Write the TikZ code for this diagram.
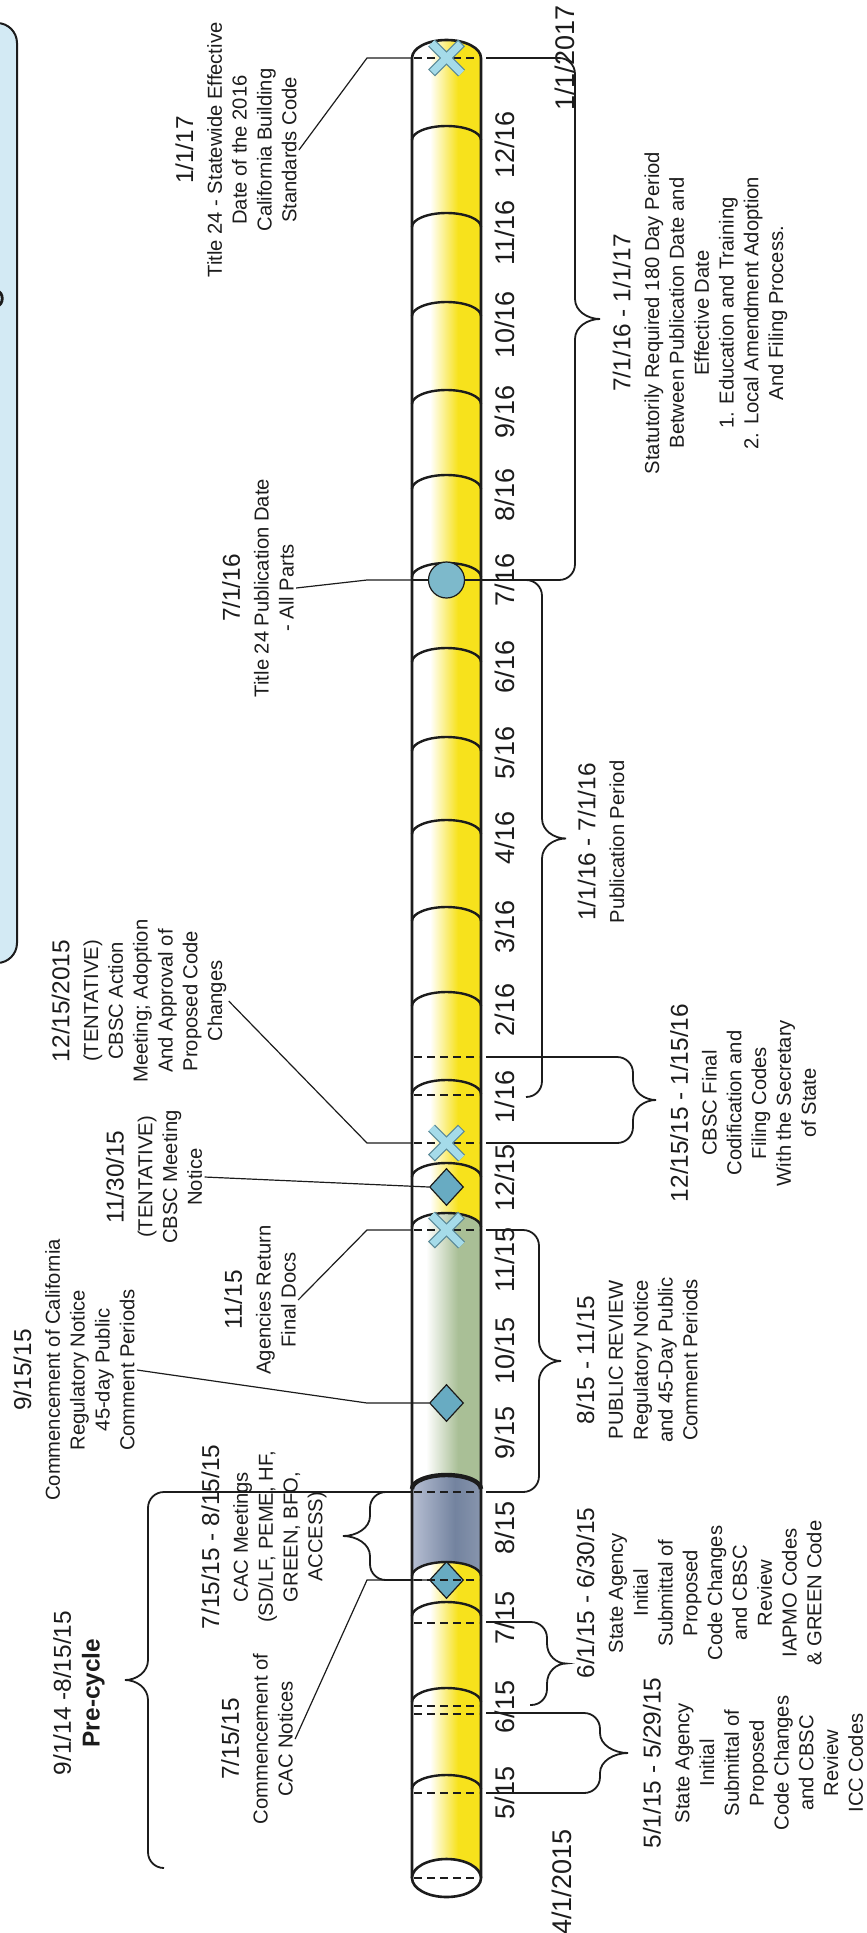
\documentclass[tikz,border=0pt]{standalone}
\usepackage{fontspec}
\setmainfont{Liberation Sans}
\usetikzlibrary{shapes.geometric}

\definecolor{tubeyellow}{HTML}{F7E21C}
\definecolor{reviewgreen}{HTML}{A9BF96}
\definecolor{cacblue}{HTML}{73839F}
\definecolor{cacbluelight}{HTML}{C9CFE1}
\definecolor{markerblue}{HTML}{68ABC2}
\definecolor{pubdot}{HTML}{7DB9CB}
\definecolor{crossblue}{HTML}{A5DBE9}
\definecolor{crossedge}{HTML}{5B8A98}
\definecolor{boxblue}{HTML}{D3EAF4}
\definecolor{ink}{HTML}{1C1C1C}

\newcommand{\headfont}{\fontsize{12.2}{14}\selectfont}
\newcommand{\bodyfont}{\fontsize{10.1}{12.4}\selectfont}

% #1 top y, #2 bottom y, #3 top stub x, #4 bottom stub x, #5 spine x, #6 tip x
\newcommand{\periodbrace}[6]{%
  \pgfmathsetmacro{\bdir}{(#6>#5) ? 1 : -1}%
  \pgfmathsetmacro{\bmid}{(#1+#2)/2}%
  \draw[period brace]
    (#3,#1) -- ({#5-16*\bdir},#1)
    .. controls ({#5-7*\bdir},#1) and (#5,{#1+7}) .. (#5,{#1+16})
    -- (#5,{\bmid-20})
    .. controls (#5,{\bmid-8}) and ({#5+0.5*(#6-#5)},\bmid) .. (#6,\bmid)
    .. controls ({#5+0.5*(#6-#5)},\bmid) and (#5,{\bmid+8}) .. (#5,{\bmid+20})
    -- (#5,{#2-16})
    .. controls (#5,{#2-7}) and ({#5-7*\bdir},#2) .. ({#5-16*\bdir},#2)
    -- (#4,#2);}

\tikzset{
  note/.style={rotate=90, align=center, font=\bodyfont, text=ink, inner sep=1pt},
  month/.style={rotate=90, font=\fontsize{13.5}{15}\selectfont, text=ink, inner sep=0pt},
  leader/.style={draw=ink, line width=0.6pt},
  period brace/.style={draw=ink, line width=0.9pt},
  tube edge/.style={draw=ink, line width=1.3pt},
  month cap/.style={draw=ink, line width=1.2pt},
  tick/.style={draw=ink, line width=1.3pt, dash pattern=on 4pt off 2.5pt},
  diamond mark/.style={diamond, draw=ink, line width=0.6pt, fill=markerblue,
    minimum width=17pt, minimum height=18.5pt, inner sep=0pt},
  dot mark/.style={circle, draw=ink, line width=0.6pt, fill=pubdot,
    minimum size=18pt, inner sep=0pt},
  cross mark/.pic={
    \draw[crossedge, line width=4.8pt] (-15,-15) -- (15,15) (-15,15) -- (15,-15);
    \draw[crossblue, line width=3.6pt, shorten <=0.6pt, shorten >=0.6pt]
      (-15,-15) -- (15,15) (-15,15) -- (15,-15);
  },
}

\begin{document}
\begin{tikzpicture}[x=0.5pt, y=-0.5pt]
  \useasboundingbox (0,0) rectangle (867,1933);
  % ---------- side panel ----------
  \draw[ink, line width=1pt, fill=boxblue, rounded corners=10pt] (-40,23) rectangle (17,963);
  \draw[ink, line width=1.4pt] (-3,291) .. controls (4,292) and (4,305) .. (-3,306);
  % ---------- tube ----------
  \begin{scope}
    \clip (412,1878) -- (412,58) .. controls (412,48.1) and (427.4,40) .. (446.5,40)
      .. controls (465.6,40) and (481,48.1) .. (481,58) -- (481,1878) -- cycle;
    \fill[white] (405,30) rectangle (490,1900);
    \shade[left color=white, right color=tubeyellow] (430,30) rectangle (458,1900);
    \fill[tubeyellow] (458,30) rectangle (490,1900);
  \end{scope}
  % ---------- public review ----------
  \begin{scope}
    \clip (412,1227) .. controls (412,1219.3) and (427.4,1213) .. (446.5,1213)
      .. controls (465.6,1213) and (481,1219.3) .. (481,1227) -- (481,1489)
      .. controls (481,1481.3) and (465.6,1475) .. (446.5,1475)
      .. controls (427.4,1475) and (412,1481.3) .. (412,1489) -- cycle;
    \fill[white] (405,1200) rectangle (490,1500);
    \shade[left color=white, right color=reviewgreen] (426,1200) rectangle (458,1500);
    \fill[reviewgreen] (458,1200) rectangle (490,1500);
  \end{scope}
  % ---------- CAC meetings ----------
  \begin{scope}
    \clip (412,1489) .. controls (412,1481.3) and (427.4,1475) .. (446.5,1475)
      .. controls (465.6,1475) and (481,1481.3) .. (481,1489) -- (481,1576)
      .. controls (481,1568.3) and (465.6,1562) .. (446.5,1562)
      .. controls (427.4,1562) and (412,1568.3) .. (412,1576) -- cycle;
    \shade[left color=cacbluelight, right color=cacblue] (400,1460) rectangle (455,1590);
    \shade[left color=cacblue, right color=cacblue!80!white] (455,1460) rectangle (490,1590);
  \end{scope}
  % ---------- month caps ----------
  \foreach \t in {126,213,302,390,475,563,648,737,820,907,992,1080,1163,1213,1562,1602,1688,1775}
    \draw[month cap] (412,{\t+14}) .. controls (412,{\t+6.3}) and (427.4,\t) .. (446.5,\t)
      .. controls (465.6,\t) and (481,{\t+6.3}) .. (481,{\t+14});
  \draw[month cap, line width=2.2pt] (412,1489) .. controls (412,1481.3) and (427.4,1475) .. (446.5,1475)
      .. controls (465.6,1475) and (481,1481.3) .. (481,1489);
  \draw[tube edge] (412,1878) -- (412,58) .. controls (412,48.1) and (427.4,40) .. (446.5,40)
      .. controls (465.6,40) and (481,48.1) .. (481,58) -- (481,1878);
  \draw[tube edge, fill=white] (446.5,1878) ellipse [x radius=34.5, y radius=19];
  % ---------- date ticks ----------
  \foreach \y in {58,1057,1095,1143,1230,1492,1623,1706,1714,1793,1878}
    \draw[tick] (414,\y) -- (479,\y);
  \draw[ink, line width=0.9pt] (412,580) -- (481,580);
  % ---------- markers ----------
  \coordinate (m-effective) at (446.5,58);
  \coordinate (m-cbscaction) at (446.5,1143);
  \coordinate (m-finaldocs) at (446.5,1230);
  \pic at (m-effective) {cross mark};
  \pic at (m-cbscaction) {cross mark};
  \pic at (m-finaldocs) {cross mark};
  \node[dot mark] (m-publish) at (446.5,580) {};
  \node[diamond mark] (m-cbscnotice) at (446.5,1187) {};
  \node[diamond mark] (m-regnotice) at (446.5,1403) {};
  \node[diamond mark] (m-cacnotice) at (446.5,1580) {};
  \draw[tick] (414,1580) -- (479,1580);
  \coordinate (l-effective) at (412,58);
  \coordinate (l-cbscaction) at (412,1143);
  \coordinate (l-finaldocs) at (412,1230);
  \coordinate (l-publish) at (412,580);
  \coordinate (l-regnotice) at (412,1403);
  \coordinate (l-cacnotice) at (412,1580);
  % ---------- month labels ----------
  \foreach \y/\m in {145/{12/16},233/{11/16},325/{10/16},412/{9/16},495/{8/16},580/{7/16},
      667/{6/16},753/{5/16},838/{4/16},927/{3/16},1010/{2/16},1097/{1/16},1178/{12/15},
      1260/{11/15},1351/{10/15},1433/{9/15},1528/{8/15},1618/{7/15},1707/{6/15},1793/{5/15}}
    \node[month] (d-\y) at (505,\y) {\m};
  \node[month] (d-end) at (565,58) {1/1/2017};
  \node[month] (d-start) at (562,1882) {4/1/2015};
  % ---------- left notes ----------
  \node[note] (t-effective) at (236,150) {{\headfont 1/1/17}\\[2pt]Title 24 - Statewide Effective\\Date of the 2016\\California Building\\Standards Code};
  \node[note] (t-publish) at (258,588) {{\headfont 7/1/16}\\[2pt]Title 24 Publication Date\\- All Parts};
  \node[note] (t-cbscaction) at (139,1001) {{\headfont 12/15/2015}\\[2pt](TENTATIVE)\\CBSC Action\\Meeting; Adoption\\And Approval of\\Proposed Code\\Changes};
  \node[note] (t-cbscnotice) at (154,1177) {{\headfont 11/30/15}\\[2pt](TENTATIVE)\\CBSC Meeting\\Notice};
  \node[note] (t-finaldocs) at (260,1300) {{\headfont 11/15}\\[2pt]Agencies Return\\Final Docs};
  \node[note] (t-regnotice) at (74,1370) {{\headfont 9/15/15}\\[2pt]Commencement of California\\Regulatory Notice\\45-day Public\\Comment Periods};
  \node[note] (t-cacmeet) at (264,1537) {{\headfont 7/15/15 - 8/15/15}\\[2pt]CAC Meetings\\(SD/LF, PEME, HF,\\GREEN, BFO,\\ACCESS)};
  \node[note] (t-cacnotice) at (257,1739) {{\headfont 7/15/15}\\[2pt]Commencement of\\CAC Notices};
  \node[note] (t-precycle) at (79,1693) {{\headfont 9/1/14 -8/15/15}\\[2pt]{\headfont\bfseries Pre-cycle}};
  % ---------- right notes ----------
  \node[note] (t-180day) at (700,313) {{\headfont 7/1/16 - 1/1/17}\\[2pt]Statutorily Required 180 Day Period\\Between Publication Date and\\Effective Date\\1. Education and Training\\2. Local Amendment Adoption\\And Filing Process.};
  \node[note] (t-pubperiod) at (601,842) {{\headfont 1/1/16 - 7/1/16}\\[2pt]Publication Period};
  \node[note] (t-codification) at (743,1103) {{\headfont 12/15/15 - 1/15/16}\\[2pt]CBSC Final\\Codification and\\Filing Codes\\With the Secretary\\of State};
  \node[note] (t-publicreview) at (637,1360) {{\headfont 8/15 - 11/15}\\[2pt]PUBLIC REVIEW\\Regulatory Notice\\and 45-Day Public\\Comment Periods};
  \node[note] (t-iapmo) at (699,1593) {{\headfont 6/1/15 - 6/30/15}\\[2pt]State Agency\\Initial\\Submittal of\\Proposed\\Code Changes\\and CBSC\\Review\\IAPMO Codes\\\& GREEN Code};
  \node[note] (t-icc) at (753,1763) {{\headfont 5/1/15 - 5/29/15}\\[2pt]State Agency\\Initial\\Submittal of\\Proposed\\Code Changes\\and CBSC\\Review\\ICC Codes};
  % ---------- leaders ----------
  \draw[leader] (t-effective.south) -- ([xshift=-22.5pt]l-effective) -- (l-effective);
  \draw[leader] (t-publish.south) -- ([xshift=-22.5pt]l-publish) -- (m-publish.west);
  \draw[leader] (t-cbscaction.south) -- ([xshift=-22.5pt]l-cbscaction) -- (l-cbscaction);
  \draw[leader] (t-cbscnotice.south) -- (m-cbscnotice.west);
  \draw[leader] (t-finaldocs.south) -- ([xshift=-22.5pt]l-finaldocs) -- (l-finaldocs);
  \draw[leader] (t-regnotice.south) -- ([xshift=-22.5pt]l-regnotice) -- (m-regnotice.west);
  \draw[leader] (t-cacnotice.south) -- ([xshift=-22.5pt]l-cacnotice) -- (m-cacnotice.west);
  % ---------- braces ----------
  \periodbrace{58}{580}{486}{481}{575}{600}
  \periodbrace{580}{1097}{526}{526}{542}{566}
  \periodbrace{1057}{1143}{486}{486}{633}{656}
  \periodbrace{1230}{1492}{486}{486}{539}{561}
  \periodbrace{1622}{1705}{486}{530}{547}{566}
  \periodbrace{1713}{1793}{486}{486}{600}{628}
  \periodbrace{1492}{1580}{412}{412}{370}{343}
  \periodbrace{1492}{1868}{412}{164}{148}{125}
\end{tikzpicture}
\end{document}
